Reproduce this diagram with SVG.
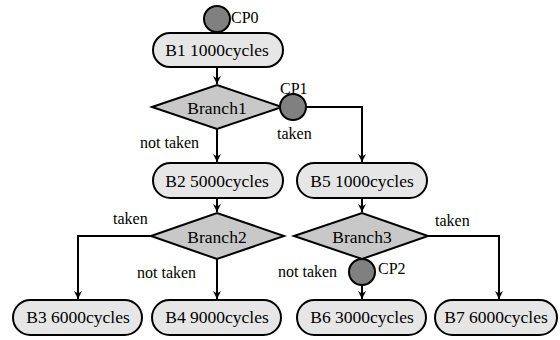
<svg xmlns="http://www.w3.org/2000/svg" width="560" height="340" viewBox="0 0 560 340">
<style>
.box{fill:#e6e6e6;stroke:#000;stroke-width:2}
.dia{fill:#c8c8c8;stroke:#000;stroke-width:2}
.cp{fill:#808080;stroke:#000;stroke-width:2}
.c{fill:none;stroke:#000;stroke-width:2}
text{font-family:'Liberation Serif','Times New Roman',serif;fill:#000}
.t{font-size:17.5px;text-anchor:middle}
.l{font-size:16px}
</style>
<defs>
<marker id="arr" viewBox="0 0 10 10" refX="10" refY="5" markerWidth="8" markerHeight="8" markerUnits="userSpaceOnUse" orient="auto">
<path d="M0,0 L10,5 L0,10 L3,5 Z" fill="#000"/>
</marker>
</defs>
<rect width="560" height="340" fill="#fff"/>
<g id="connectors">
<path class="c" d="M217,67 V84" marker-end="url(#arr)"/>
<path class="c" d="M306,107 H362 V162" marker-end="url(#arr)"/>
<path class="c" d="M217,129 V162" marker-end="url(#arr)"/>
<path class="c" d="M217,198 V212" marker-end="url(#arr)"/>
<path class="c" d="M151,236 H78 V299" marker-end="url(#arr)"/>
<path class="c" d="M217,259 V299" marker-end="url(#arr)"/>
<path class="c" d="M362,198 V212" marker-end="url(#arr)"/>
<path class="c" d="M428,236 H499 V299" marker-end="url(#arr)"/>
<path class="c" d="M362,285 V299" marker-end="url(#arr)"/>
</g>
<g id="CP0"><circle class="cp" cx="217" cy="19" r="13"/><text class="l" x="231" y="23" font-family="Liberation Serif, serif">CP0</text></g>
<g id="B1"><rect class="box" x="153" y="33" width="130" height="34" rx="17"/><text class="t" x="217" y="56" font-family="Liberation Serif, serif">B1 1000cycles</text></g>
<g id="Branch1"><polygon class="dia" points="152,107 217,85 282,107 217,129"/><text class="t" x="217" y="114" font-family="Liberation Serif, serif">Branch1</text></g>
<g id="CP1"><circle class="cp" cx="293" cy="107" r="13"/><text class="l" x="280" y="94" font-family="Liberation Serif, serif">CP1</text></g>
<g id="B2"><rect class="box" x="153" y="163" width="130" height="35" rx="17.5"/><text class="t" x="217" y="187" font-family="Liberation Serif, serif">B2 5000cycles</text></g>
<g id="B5"><rect class="box" x="297" y="163" width="130" height="35" rx="17.5"/><text class="t" x="362" y="187" font-family="Liberation Serif, serif">B5 1000cycles</text></g>
<g id="Branch2"><polygon class="dia" points="151,236 217,213 284,236 217,259"/><text class="t" x="217" y="243" font-family="Liberation Serif, serif">Branch2</text></g>
<g id="Branch3"><polygon class="dia" points="294,236 362,213 428,236 362,259"/><text class="t" x="362" y="243" font-family="Liberation Serif, serif">Branch3</text></g>
<g id="CP2"><circle class="cp" cx="362" cy="272" r="13"/><text class="l" x="378" y="274" font-family="Liberation Serif, serif">CP2</text></g>
<g id="B3"><rect class="box" x="13" y="300" width="129" height="35" rx="17.5"/><text class="t" x="78" y="323" font-family="Liberation Serif, serif">B3 6000cycles</text></g>
<g id="B4"><rect class="box" x="152" y="300" width="129" height="35" rx="17.5"/><text class="t" x="217" y="323" font-family="Liberation Serif, serif">B4 9000cycles</text></g>
<g id="B6"><rect class="box" x="297" y="300" width="129" height="35" rx="17.5"/><text class="t" x="362" y="323" font-family="Liberation Serif, serif">B6 3000cycles</text></g>
<g id="B7"><rect class="box" x="435" y="300" width="122" height="35" rx="17.5"/><text class="t" x="496" y="323" font-family="Liberation Serif, serif">B7 6000cycles</text></g>
<g id="labels" font-family="Liberation Serif, serif">
<text class="l" x="140" y="148">not taken</text>
<text class="l" x="277" y="139">taken</text>
<text class="l" x="113" y="224">taken</text>
<text class="l" x="137" y="278">not taken</text>
<text class="l" x="435" y="226">taken</text>
<text class="l" x="278" y="277">not taken</text>
</g>
</svg>
